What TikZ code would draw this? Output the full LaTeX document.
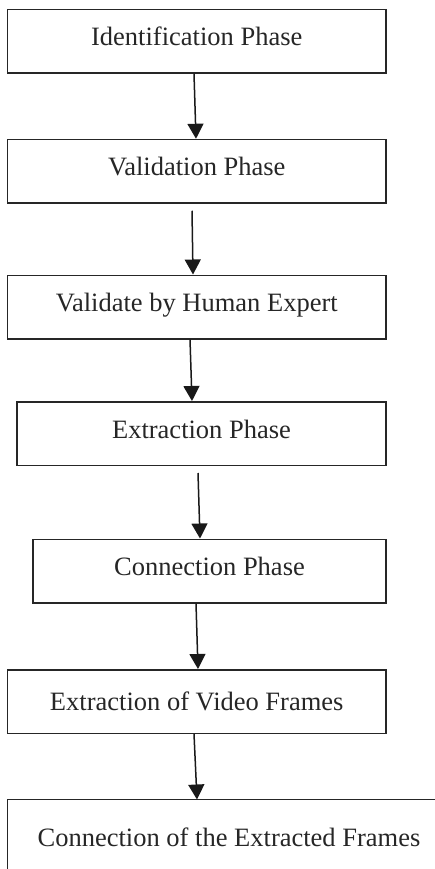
\documentclass[tikz,border=0pt]{standalone}
\usepackage{fontspec}
\setmainfont{Liberation Serif}
\usetikzlibrary{arrows.meta}
\begin{document}
\begin{tikzpicture}[x=1pt,y=-1pt,
  phasebox/.style={draw=black!85,line width=1.5pt,rectangle,inner sep=0pt,
    minimum height=63.5pt,font=\fontsize{26.5}{30}\selectfont,text=black!85},
  raisedtext/.style={text height=18.5pt,text depth=9.5pt},
  flowarrow/.style={draw=black!90,line width=1.5pt,-{Triangle[length=15pt,width=16pt]}}]
\useasboundingbox (0,0) rectangle (435,869);
\node[phasebox,raisedtext,minimum width=378.5pt] (b1) at (196.75,41.25) {Identification Phase};
\node[phasebox,raisedtext,minimum width=378.5pt] (b2) at (196.75,171.25) {Validation Phase};
\node[phasebox,raisedtext,minimum width=378.5pt] (b3) at (196.75,307) {Validate by Human Expert};
\node[phasebox,raisedtext,minimum width=369pt] (b4) at (201.5,433.5) {Extraction Phase};
\node[phasebox,raisedtext,minimum width=353pt] (b5) at (209.5,571) {Connection Phase};
\node[phasebox,minimum width=378.5pt] (b6) at (196.75,701.5) {Extraction of Video Frames};
\node[phasebox,draw=none] (b7) at (229,837) {Connection of the Extracted Frames};
\coordinate (b7tr) at (436,799.5);
\coordinate (b7tl) at (7.5,799.5);
\coordinate (b7bl) at (7.5,870);
\coordinate (b7in) at (197,799.5);
\draw[draw=black!85,line width=1.5pt] (b7tr) -- (b7tl) -- (b7bl);
\draw[flowarrow] ([xshift=-2.75pt]b1.south) -- ([xshift=-0.75pt]b2.north);
\draw[flowarrow] ([xshift=-4.75pt,yshift=-7pt]b2.south) -- ([xshift=-3.75pt]b3.north);
\draw[flowarrow] ([xshift=-6.75pt]b3.south) -- ([xshift=-9.5pt]b4.north);
\draw[flowarrow] ([xshift=-3.5pt,yshift=-7pt]b4.south) -- ([xshift=-9.5pt]b5.north);
\draw[flowarrow] ([xshift=-13.5pt]b5.south) -- ([xshift=1.25pt]b6.north);
\draw[flowarrow] ([xshift=-2.75pt]b6.south) -- (b7in);
\end{tikzpicture}
\end{document}
